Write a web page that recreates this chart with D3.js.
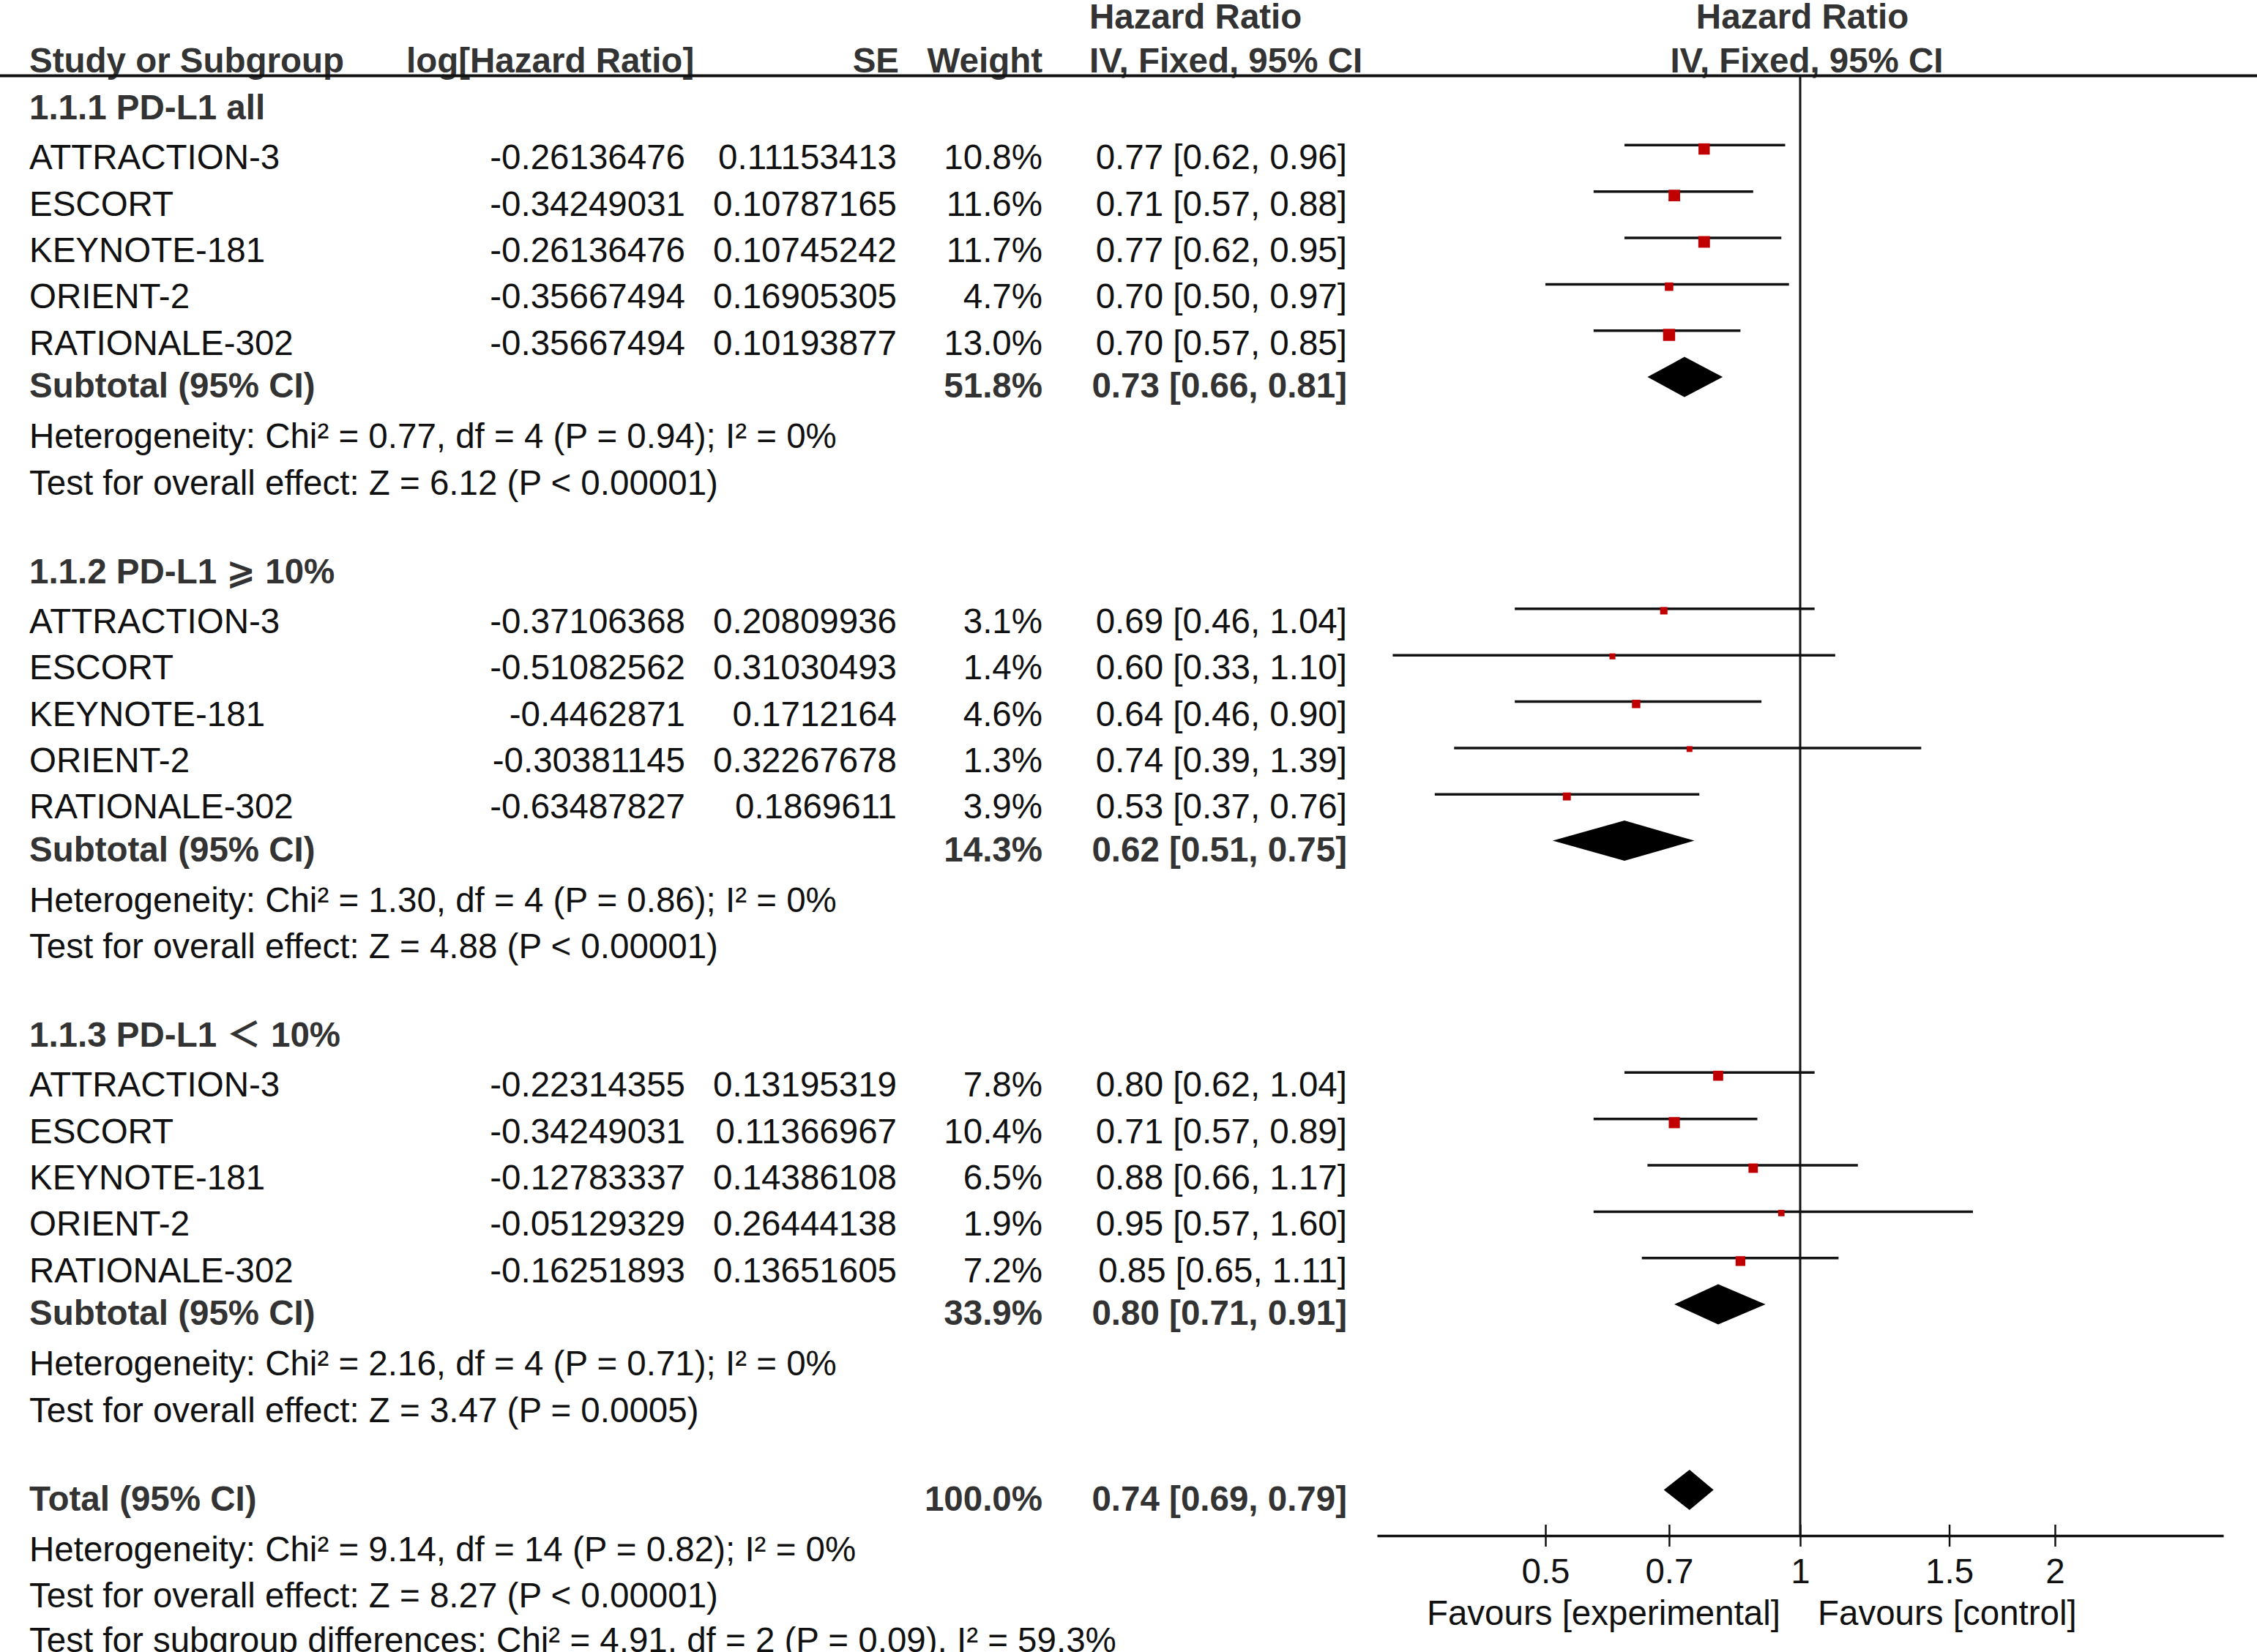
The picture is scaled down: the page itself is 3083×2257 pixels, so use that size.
<!DOCTYPE html>
<html>
<head>
<meta charset="utf-8">
<script src="https://cdn.jsdelivr.net/npm/d3@7"></script>
<style>
  body { margin: 0; background: #fff; }
  text { font-family: "Liberation Sans", Arial, "DejaVu Sans", "Noto Sans CJK SC", sans-serif; font-size: 47.5px; fill: #111; }
  .b { font-weight: bold; fill: #333; }
</style>
</head>
<body>
<div id="chart"></div>
<script>
// subgroup and study names
var groups = ["1.1.1 PD-L1 all", "1.1.2 PD-L1 \u2A7E 10%", "1.1.3 PD-L1 \uFF1C 10%"];
var studies = ["ATTRACTION-3", "ESCORT", "KEYNOTE-181", "ORIENT-2", "RATIONALE-302"];

// per study values, one array per subgroup
var logHR = [
  [-0.26136476, -0.34249031, -0.26136476, -0.35667494, -0.35667494],
  [-0.37106368, -0.51082562, -0.4462871, -0.30381145, -0.63487827],
  [-0.22314355, -0.34249031, -0.12783337, -0.05129329, -0.16251893]
];
var se = [
  [0.11153413, 0.10787165, 0.10745242, 0.16905305, 0.10193877],
  [0.20809936, 0.31030493, 0.1712164, 0.32267678, 0.1869611],
  [0.13195319, 0.11366967, 0.14386108, 0.26444138, 0.13651605]
];
var weight = [
  [10.8, 11.6, 11.7, 4.7, 13.0],
  [3.1, 1.4, 4.6, 1.3, 3.9],
  [7.8, 10.4, 6.5, 1.9, 7.2]
];
var hr = [
  [0.77, 0.71, 0.77, 0.70, 0.70],
  [0.69, 0.60, 0.64, 0.74, 0.53],
  [0.80, 0.71, 0.88, 0.95, 0.85]
];
var lo = [
  [0.62, 0.57, 0.62, 0.50, 0.57],
  [0.46, 0.33, 0.46, 0.39, 0.37],
  [0.62, 0.57, 0.66, 0.57, 0.65]
];
var hi = [
  [0.96, 0.88, 0.95, 0.97, 0.85],
  [1.04, 1.10, 0.90, 1.39, 0.76],
  [1.04, 0.89, 1.17, 1.60, 1.11]
];

// pooled estimates: three subtotals, then total
var poolWeight = [51.8, 14.3, 33.9, 100.0];
var poolHR = [0.73, 0.62, 0.80, 0.74];
var poolLo = [0.66, 0.51, 0.71, 0.69];
var poolHi = [0.81, 0.75, 0.91, 0.79];

var heterogeneity = [
  "Heterogeneity: Chi\u00B2 = 0.77, df = 4 (P = 0.94); I\u00B2 = 0%",
  "Heterogeneity: Chi\u00B2 = 1.30, df = 4 (P = 0.86); I\u00B2 = 0%",
  "Heterogeneity: Chi\u00B2 = 2.16, df = 4 (P = 0.71); I\u00B2 = 0%",
  "Heterogeneity: Chi\u00B2 = 9.14, df = 14 (P = 0.82); I\u00B2 = 0%"
];
var overall = [
  "Test for overall effect: Z = 6.12 (P < 0.00001)",
  "Test for overall effect: Z = 4.88 (P < 0.00001)",
  "Test for overall effect: Z = 3.47 (P = 0.0005)",
  "Test for overall effect: Z = 8.27 (P < 0.00001)"
];
var subgroupTest = "Test for subgroup differences: Chi\u00B2 = 4.91, df = 2 (P = 0.09), I\u00B2 = 59.3%";

var tickValues = [0.5, 0.7, 1, 1.5, 2];
var favours = ["Favours [experimental]", "Favours [control]"];

var width = 3083, height = 2257;

var svg = d3.select("#chart").append("svg")
    .attr("width", width)
    .attr("height", height);

// row number -> text baseline
var y = d3.scaleLinear().domain([0, 33]).range([163, 163 + 33 * 63.35]);
// log scale for the forest plot
var x = d3.scaleLog().domain([Math.pow(10, -0.5), Math.pow(10, 0.5)]).range([1881, 3037]);
// square size from weight
var box = d3.scaleSqrt().domain([0, 13]).range([4, 16.5]);

var col = {name: 40, logHR: 936, se: 1225, weight: 1424, ci: 1840};
var axisY = 2098, markOff = 28;

function fmtCI(h, l, u) {
  return h.toFixed(2) + " [" + l.toFixed(2) + ", " + u.toFixed(2) + "]";
}

// build the row list (dy: small text nudge per row kind)
var rows = [];
groups.forEach(function(g, gi) {
  var base = gi * 10;
  rows.push({row: base, name: g, bold: true, dy: 0});
  studies.forEach(function(s, si) {
    rows.push({row: base + 1 + si, name: s, dy: 5, logHR: String(logHR[gi][si]), se: String(se[gi][si]),
      weight: weight[gi][si].toFixed(1) + "%", ci: fmtCI(hr[gi][si], lo[gi][si], hi[gi][si]),
      study: {hr: hr[gi][si], lo: lo[gi][si], hi: hi[gi][si], w: weight[gi][si]}});
  });
  rows.push({row: base + 6, name: "Subtotal (95% CI)", bold: true, dy: 0, weight: poolWeight[gi].toFixed(1) + "%",
    ci: fmtCI(poolHR[gi], poolLo[gi], poolHi[gi]), pool: gi});
  rows.push({row: base + 7, name: heterogeneity[gi], dy: 6});
  rows.push({row: base + 8, name: overall[gi], dy: 6});
});
rows.push({row: 30, name: "Total (95% CI)", bold: true, dy: 0, weight: poolWeight[3].toFixed(1) + "%",
  ci: fmtCI(poolHR[3], poolLo[3], poolHi[3]), pool: 3});
rows.push({row: 31, name: heterogeneity[3], dy: 6});
rows.push({row: 32, name: overall[3], dy: 6});
rows.push({row: 33, name: subgroupTest, dy: 3});

// header
var head = svg.append("g");
head.append("text").attr("class", "b").attr("x", 1488).attr("y", 39).text("Hazard Ratio");
head.append("text").attr("class", "b").attr("x", 2462).attr("y", 39).attr("text-anchor", "middle").text("Hazard Ratio");
head.append("text").attr("class", "b").attr("x", col.name).attr("y", 99).text("Study or Subgroup");
head.append("text").attr("class", "b").attr("x", 555).attr("y", 99).text("log[Hazard Ratio]");
head.append("text").attr("class", "b").attr("x", 1228).attr("y", 99).attr("text-anchor", "end").text("SE");
head.append("text").attr("class", "b").attr("x", col.weight).attr("y", 99).attr("text-anchor", "end").text("Weight");
head.append("text").attr("class", "b").attr("x", 1488).attr("y", 99).text("IV, Fixed, 95% CI");
head.append("text").attr("class", "b").attr("x", 2468).attr("y", 99).attr("text-anchor", "middle").text("IV, Fixed, 95% CI");

svg.append("line")
    .attr("x1", 0).attr("x2", width)
    .attr("y1", 103.5).attr("y2", 103.5)
    .attr("stroke", "#111").attr("stroke-width", 4);

// table text
var r = svg.append("g").selectAll("g")
    .data(rows)
  .enter().append("g")
    .attr("transform", function(d) { return "translate(0," + (y(d.row) + d.dy) + ")"; });

r.append("text")
    .attr("class", function(d) { return d.bold ? "b" : null; })
    .attr("x", col.name)
    .text(function(d) { return d.name; });

["logHR", "se", "weight", "ci"].forEach(function(k) {
  r.filter(function(d) { return d[k] != null; })
    .append("text")
      .attr("class", function(d) { return d.bold ? "b" : null; })
      .attr("x", col[k])
      .attr("text-anchor", "end")
      .text(function(d) { return d[k]; });
});

// null line
svg.append("line")
    .attr("x1", x(1)).attr("x2", x(1))
    .attr("y1", 103.5).attr("y2", axisY)
    .attr("stroke", "#111").attr("stroke-width", 3);

// study CIs and squares
var st = svg.append("g").selectAll("g")
    .data(rows.filter(function(d) { return d.study; }))
  .enter().append("g");

st.append("line")
    .attr("x1", function(d) { return x(d.study.lo); })
    .attr("x2", function(d) { return x(d.study.hi); })
    .attr("y1", function(d) { return y(d.row) - markOff; })
    .attr("y2", function(d) { return y(d.row) - markOff; })
    .attr("stroke", "#111").attr("stroke-width", 3.5);

st.append("rect")
    .attr("x", function(d) { return x(d.study.hr) - box(d.study.w) / 2; })
    .attr("y", function(d) { return y(d.row) - markOff - 2.5; })
    .attr("width", function(d) { return box(d.study.w); })
    .attr("height", function(d) { return box(d.study.w); })
    .attr("fill", "#c00000");

// pooled diamonds
svg.append("g").selectAll("path")
    .data(rows.filter(function(d) { return d.pool != null; }))
  .enter().append("path")
    .attr("d", function(d) {
      var cy = y(d.row) - markOff, i = d.pool;
      return "M" + x(poolLo[i]) + "," + cy +
        "L" + x(poolHR[i]) + "," + (cy - 27.5) +
        "L" + x(poolHi[i]) + "," + cy +
        "L" + x(poolHR[i]) + "," + (cy + 27.5) + "Z";
    })
    .attr("fill", "#000");

// x axis
var ax = svg.append("g")
    .attr("transform", "translate(0," + axisY + ")")
    .call(d3.axisBottom(x).tickValues(tickValues).tickSizeOuter(0).tickFormat(d3.format("")));

ax.select(".domain").attr("stroke", "#111").attr("stroke-width", 3.5);
ax.selectAll(".tick line").attr("y1", -15).attr("y2", 15).attr("stroke", "#111").attr("stroke-width", 2.5);
ax.selectAll(".tick text")
    .attr("y", 65).attr("dy", null)
    .attr("fill", "#111")
    .style("font-size", "47.5px")
    .style("font-family", "'Liberation Sans', Arial, sans-serif");

svg.append("text").attr("x", x(1) - 27).attr("y", 2220).attr("text-anchor", "end").text(favours[0]);
svg.append("text").attr("x", x(1) + 24).attr("y", 2220).text(favours[1]);
</script>
</body>
</html>
